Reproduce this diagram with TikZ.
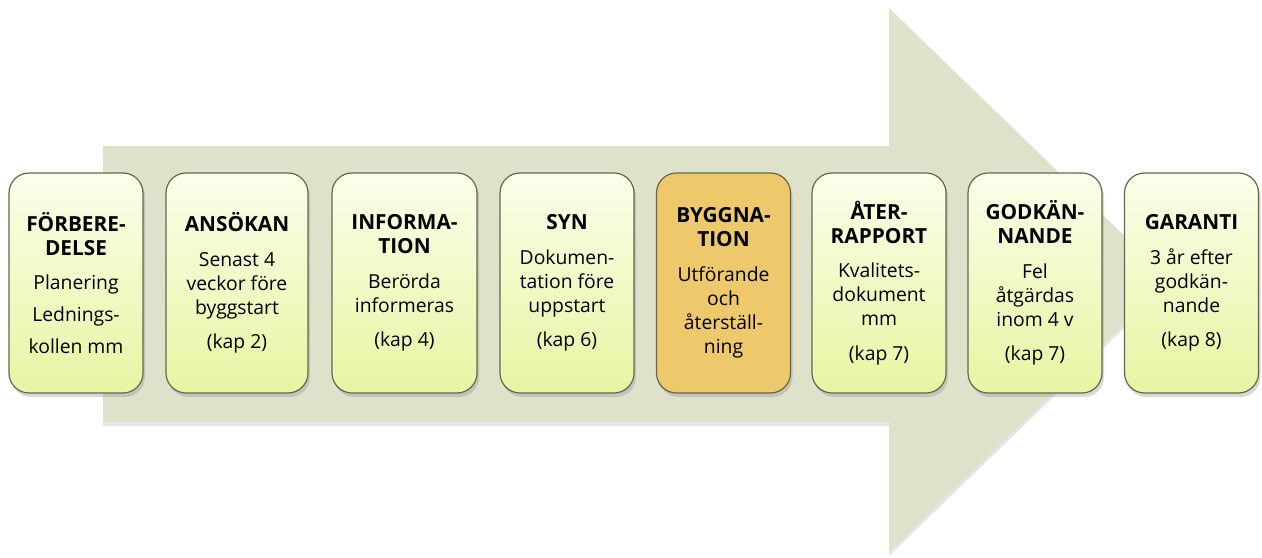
\documentclass[tikz,border=0pt]{standalone}
\usepackage{fontspec}
\setmainfont{Open Sans}
\usetikzlibrary{shadows}

\definecolor{arrowfill}{HTML}{DFE2CB}
\definecolor{stagetop}{HTML}{FBFEEA}
\definecolor{stagebottom}{HTML}{E6F5A2}
\definecolor{stageline}{HTML}{66664F}
\definecolor{activefill}{HTML}{EDC96C}

\newcommand{\stitle}[1]{{\fontsize{15.6}{18.75}\selectfont\bfseries #1}}

\tikzset{
  stage/.style={draw=stageline, line width=0.9pt, rounded corners=15pt,
    top color=stagetop, bottom color=stagebottom,
    minimum width=100.5pt, minimum height=165pt, inner sep=0pt,
    align=center, font=\fontsize{14.5}{18}\selectfont,
    drop shadow={shadow xshift=1.5pt, shadow yshift=-3pt, opacity=0.3}},
  active/.style={stage, fill=activefill, top color=activefill, bottom color=activefill},
}

\begin{document}
\begin{tikzpicture}[x=0.75pt, y=0.75pt]
			\useasboundingbox (0, 0) rectangle (1262, 557);
			% big arrow behind the stages
			\fill[arrowfill, drop shadow={shadow xshift=0pt, shadow yshift=-3pt, opacity=0.2}]
				(103, 135) -- (103, 411) -- (889, 411) -- (889, 549)
				-- (1170, 277) -- (889, 5) -- (889, 135) -- cycle;
			% stages
			\node[stage] (forb) at (76, 274) {\stitle{FÖRBERE-}\\\stitle{DELSE}\\[8pt]Planering\\[6pt]Lednings-\\[6pt]kollen mm};
			\node[stage, minimum width=106.5pt] (ansok) at (237, 274) {\stitle{ANSÖKAN}\\[8pt]Senast 4\\veckor före\\byggstart\\[8pt](kap 2)};
			\node[stage, minimum width=108.75pt] (info) at (404.5, 274) {\stitle{INFORMA-}\\\stitle{TION}\\[8pt]Berörda\\informeras\\[8pt](kap 4)};
			\node[stage] (syn) at (567, 274) {\stitle{SYN}\\[8pt]Dokumen-\\tation före\\uppstart\\[8pt](kap 6)};
			\node[active] (bygg) at (723.5, 274) {\stitle{BYGGNA-}\\\stitle{TION}\\[8pt]Utförande\\och\\återställ-\\ning};
			\node[stage] (ater) at (879, 274) {\stitle{ÅTER-}\\\stitle{RAPPORT}\\[8pt]Kvalitets-\\dokument\\mm\\[8pt](kap 7)};
			\node[stage] (godk) at (1035, 274) {\stitle{GODKÄN-}\\\stitle{NANDE}\\[8pt]Fel\\åtgärdas\\inom 4 v\\[8pt](kap 7)};
			\node[stage] (gar) at (1191.5, 274) {\stitle{GARANTI}\\[8pt]3 år efter\\godkän-\\nande\\[8pt](kap 8)};
		\end{tikzpicture}
\end{document}
